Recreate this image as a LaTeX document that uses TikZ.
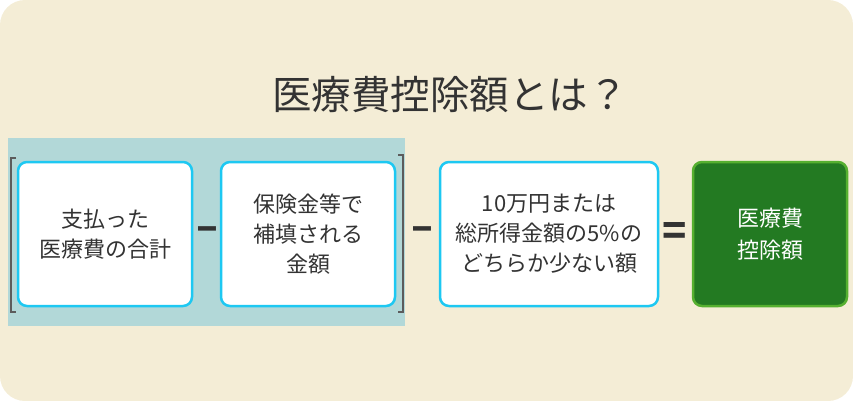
\documentclass[tikz,border=0pt]{standalone}
\usepackage{fontspec}
\setmainfont{Noto Sans CJK JP}
\definecolor{cream}{HTML}{F4EDD6}
\definecolor{teal}{HTML}{B2D8D8}
\definecolor{cyanb}{HTML}{1DC8F2}
\definecolor{dgreen}{HTML}{237A22}
\definecolor{lgreen}{HTML}{56B030}
\definecolor{txt}{HTML}{333333}
\begin{document}
\begin{tikzpicture}[x=1pt,y=-1pt,
  wbox/.style={draw=cyanb,line width=2.5pt,fill=white,rounded corners=9pt,align=center,text=txt,font=\fontsize{22}{30}\selectfont},
  op/.style={text=txt,font=\fontsize{40}{40}\selectfont\bfseries},
  brk/.style={draw=txt!80,line width=2pt}]
\useasboundingbox (0,0) rectangle (853,401);
\fill[cream,rounded corners=25pt] (0,0) rectangle (853,401);
\node[text=txt,font=\fontsize{39.5}{44}\selectfont] (title) at (450,95) {医療費控除額とは？};
\fill[teal] (8,138) rectangle (405,326);
\draw[brk] (16,158) -- (11,158) -- (11,312) -- (16,312);
\draw[brk] (398,155) -- (403,155) -- (403,312) -- (398,312);
\node[wbox,minimum width=174pt,minimum height=144pt] (a) at (105,234) {支払った\\医療費の合計};
\node[wbox,minimum width=174pt,minimum height=144pt] (b) at (308,234) {保険金等で\\補填される\\金額};
\node[wbox,minimum width=218pt,minimum height=144pt] (c) at (549,234) {10万円または\\総所得金額の5\%の\\どちらか少ない額};
\node[draw=lgreen,line width=2.5pt,fill=dgreen,rounded corners=9pt,minimum width=154pt,minimum height=144pt,align=center,text=white,font=\fontsize{22}{32}\selectfont] (d) at (770,234) {医療費\\控除額};
\node[op] (m1) at (207,234) {–};
\node[op] (m2) at (422,234) {–};
\node[op] (eq) at (675,234) {=};
\end{tikzpicture}
\end{document}
